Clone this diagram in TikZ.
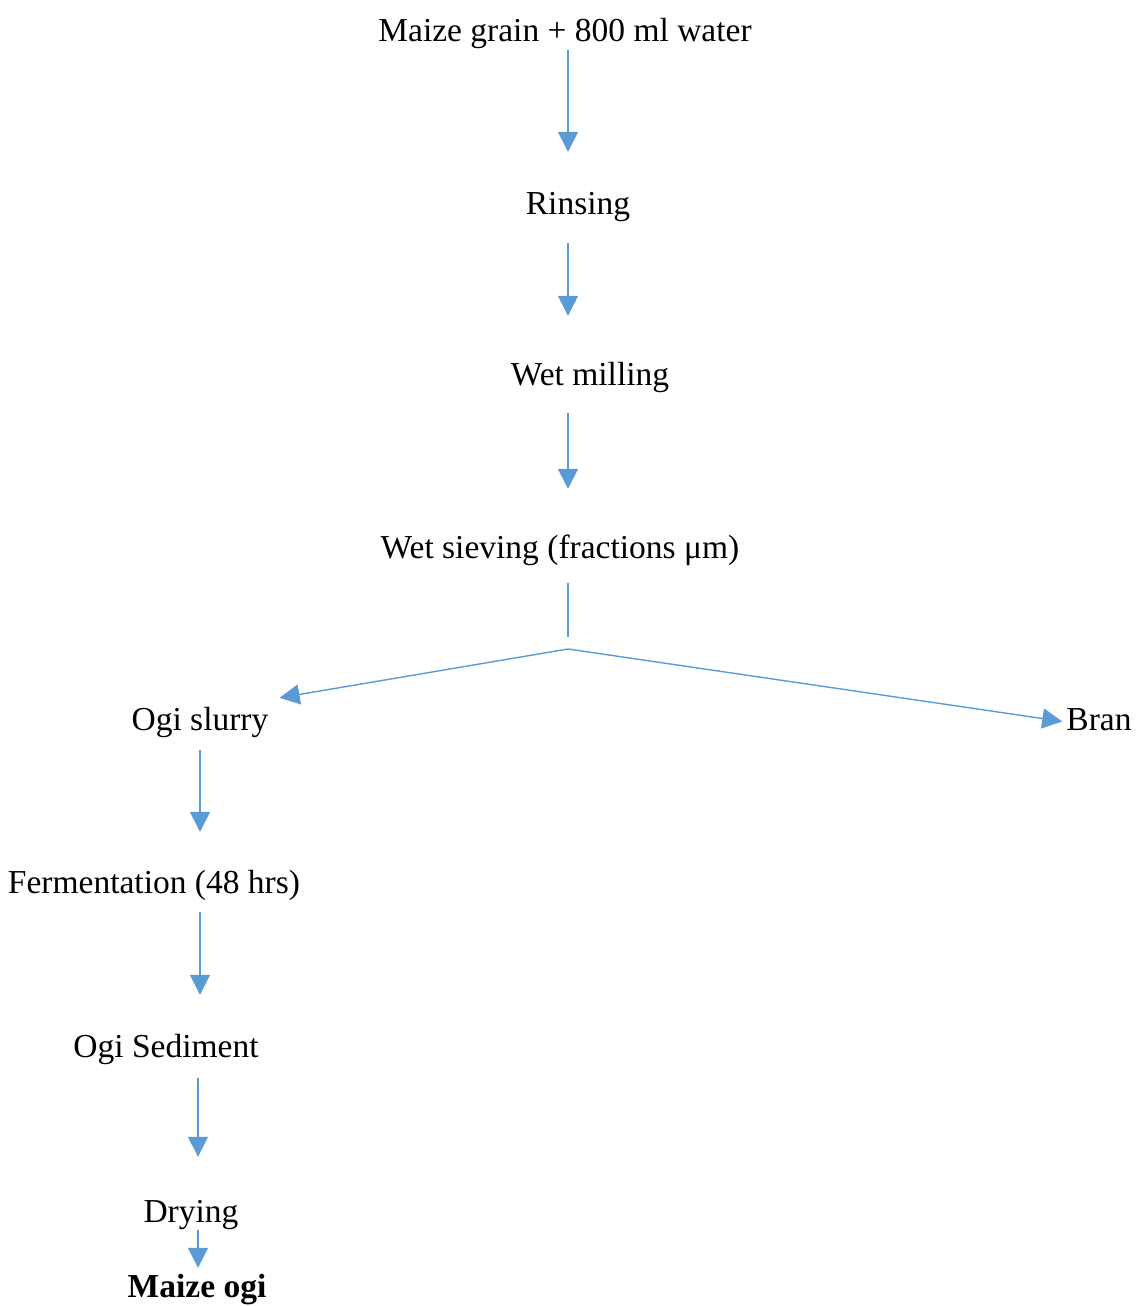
\documentclass[tikz,border=0pt]{standalone}
\usepackage{fontspec}
\setmainfont{Liberation Serif}
\usetikzlibrary{arrows.meta}
\definecolor{arrowblue}{RGB}{91,155,213}
\begin{document}
\begin{tikzpicture}[x=1pt,y=-1pt,
  lbl/.style={anchor=base,inner sep=0pt,font=\fontsize{33.5}{40}\selectfont,text height=24pt,text depth=8pt},
  arr/.style={draw=arrowblue,line width=1.4pt,-{Triangle[width=20pt,length=20pt]}},
  ln/.style={draw=arrowblue,line width=1.4pt}]
\useasboundingbox (0,0) rectangle (1137,1306);
\node[lbl] (grain) at (565,42) {Maize grain + 800 ml water};
\node[lbl] (rinse) at (578,214) {Rinsing};
\node[lbl] (mill) at (590,385) {Wet milling};
\node[lbl] (sieve) at (560,558) {Wet sieving (fractions μm)};
\node[lbl] (slurry) at (200,730) {Ogi slurry};
\node[lbl] (bran) at (1099,730) {Bran};
\node[lbl] (ferm) at (154,893) {Fermentation (48 hrs)};
\node[lbl] (sed) at (166,1057) {Ogi Sediment};
\node[lbl] (dry) at (191,1222) {Drying};
\node[lbl,font=\fontsize{33.5}{40}\selectfont\bfseries] (ogi) at (197,1297) {Maize ogi};
\coordinate (spine) at (568,0);
\coordinate (vend) at (568,637);
\coordinate (branch) at (568,649);
% main column
\draw[arr,shorten >=38pt] (grain.south -| spine) -- (rinse.north -| spine);
\draw[arr,shorten <=21pt,shorten >=45pt] (rinse.south -| spine) -- (mill.north -| spine);
\draw[arr,shorten <=20pt,shorten >=45pt] (mill.south -| spine) -- (sieve.north -| spine);
\draw[ln,shorten <=17pt] (sieve.south -| spine) -- (vend);
% branches
\draw[arr] (branch) -- ([shift={(11pt,8pt)}]slurry.north east);
\draw[arr,shorten >=4pt] (branch) -- (bran.west);
% left column
\draw[arr,shorten <=12pt,shorten >=37pt] (slurry.south) -- (slurry.south |- ferm.north);
\draw[arr,shorten <=11pt,shorten >=38pt] (slurry.south |- ferm.south) -- (slurry.south |- sed.north);
\draw[arr,shorten <=13pt,shorten >=41pt] ([xshift=-2pt]slurry.south |- sed.south) -- ([xshift=-2pt]slurry.south |- dry.north);
\draw[arr,shorten >=5pt] ([xshift=-2pt]slurry.south |- dry.south) -- ([xshift=-2pt]slurry.south |- ogi.north);
\end{tikzpicture}
\end{document}
